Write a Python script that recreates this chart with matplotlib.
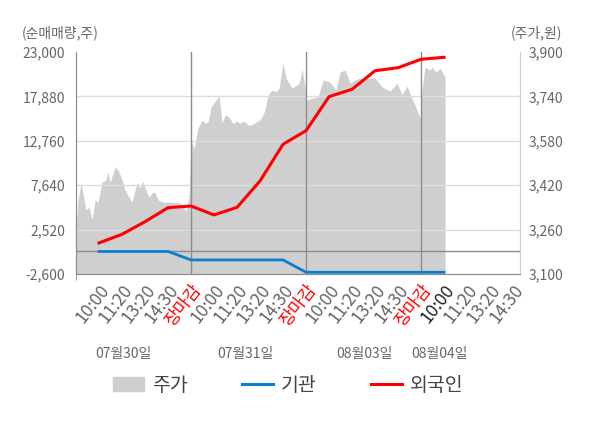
import matplotlib
matplotlib.use("Agg")
import matplotlib.pyplot as plt
from matplotlib.lines import Line2D
from matplotlib.patches import Patch
from matplotlib.ticker import FuncFormatter

plt.rcParams['font.family'] = ['Noto Sans CJK KR', 'DejaVu Sans']

# --- data -------------------------------------------------------------
# x unit: 5 units per trading day (9:00, 10:00, 11:20, 13:20, 14:30, close)
price_t = [
    0.0, 0.09, 0.22, 0.43, 0.57, 0.70, 0.83, 0.96, 1.13, 1.30, 1.39, 1.48, 1.70, 1.83, 2.0,
    2.13, 2.43, 2.65, 2.78, 2.91, 3.04, 3.17, 3.30, 3.43, 3.57, 3.78, 4.09, 4.52, 4.78, 4.91,
    5.0, 5.13, 5.30, 5.48, 5.61, 5.74, 5.87, 6.22, 6.35, 6.48, 6.65, 6.83, 6.96, 7.13, 7.30,
    7.48, 7.65, 7.83, 8.0, 8.17, 8.35, 8.52, 8.70, 8.83, 9.0, 9.13, 9.39, 9.70, 9.83, 9.96,
    10.0, 10.09, 10.26, 10.52, 10.74, 11.04, 11.30, 11.48, 11.70, 11.91, 12.22, 12.43, 13.0,
    13.30, 13.65, 13.96, 14.17, 14.39, 14.57, 14.70, 14.87, 14.96,
    15.04, 15.17, 15.39, 15.48, 15.65, 15.83, 16.0, 16.04,
]
price = [
    3266, 3367, 3428, 3331, 3341, 3295, 3367, 3359, 3431, 3439, 3468, 3431, 3486, 3475, 3439,
    3403, 3359, 3428, 3410, 3435, 3403, 3377, 3392, 3395, 3367, 3359, 3359, 3356, 3327, 3377,
    3583, 3550, 3626, 3655, 3644, 3648, 3702, 3741, 3644, 3673, 3666, 3641, 3651, 3644, 3651,
    3637, 3637, 3648, 3655, 3680, 3745, 3763, 3756, 3770, 3860, 3806, 3770, 3788, 3839, 3770,
    3727, 3727, 3734, 3738, 3799, 3792, 3763, 3828, 3835, 3788, 3803, 3806, 3806,
    3774, 3759, 3788, 3745, 3777, 3738, 3716, 3680, 3662,
    3763, 3846, 3835, 3846, 3828, 3842, 3814, 3817,
]

flow_t = list(range(1, 17))
foreign = [980, 1980, 3430, 5050, 5240, 4210, 5090, 8130, 12360, 13930,
           17850, 18700, 20840, 21190, 22160, 22390]
institution = [0, 0, 0, 0, -980, -980, -980, -980, -980, -2400,
               -2400, -2400, -2400, -2400, -2400, -2400]

time_labels = ['10:00', '11:20', '13:20', '14:30', '장마감']
day_labels = ['07월30일', '07월31일', '08월03일', '08월04일']
day_label_pos = [2.05, 7.35, 12.55, 15.8]

left_ticks = [-2600, 2520, 7640, 12760, 17880, 23000]
right_ticks = [3100, 3260, 3420, 3580, 3740, 3900]

# --- plot -------------------------------------------------------------
gray_txt = '#666666'
fig = plt.figure(figsize=(6, 4.28), dpi=100)
ax = fig.add_axes([76 / 600, 1 - 274 / 428, 444 / 600, 222 / 428])
ax2 = ax.twinx()
ax.set_zorder(ax2.get_zorder() + 1)
ax.patch.set_visible(False)
ax2.patch.set_facecolor('#f4f4f4')

ax2.fill_between(price_t, 3100, price, color='#cfcfcf', lw=0)
ax2.set_ylim(3100, 3900)
ax2.set_yticks(right_ticks)

ax.set_ylim(-2600, 23000)
ax.set_yticks(left_ticks)
for v in left_ticks[1:-1]:
    ax.axhline(v, color='#dcdcdc', lw=1, zorder=1)
ax.axhline(0, color='#8c8c8c', lw=1, zorder=1)
for d in (5, 10, 15):
    ax.axvline(d, color='#8c8c8c', lw=1, zorder=1)

ax.plot(flow_t, institution, color='#0a7fd0', lw=2.0, zorder=3)
ax.plot(flow_t, foreign, color='#ff0000', lw=2.2, zorder=4)

fmt = FuncFormatter(lambda v, p: f'{int(v):,}')
ax.yaxis.set_major_formatter(fmt)
ax2.yaxis.set_major_formatter(fmt)

ax.set_xlim(0, 19.3)
xt = [d * 5 + i + 1 for d in range(4) for i in range(5) if d * 5 + i + 1 < 19.3]
ax.set_xticks(xt)
ax.set_xticklabels([time_labels[(t - 1) % 5] for t in xt], rotation=52,
                   ha='right', va='top', rotation_mode='anchor', fontsize=12.5)
for t, lab in zip(xt, ax.get_xticklabels()):
    if t % 5 == 0:
        lab.set_color('red')
    elif t == 16:
        lab.set_color('#222222')
    else:
        lab.set_color(gray_txt)
ax.set_xticks([0, 5, 10, 15], minor=True)
ax.tick_params(axis='x', which='major', length=0, pad=5)
ax.tick_params(axis='x', which='minor', length=4, color='#8c8c8c')
ax.tick_params(axis='y', length=0, labelsize=10, labelcolor=gray_txt, pad=8)
ax2.tick_params(axis='y', length=0, labelsize=10, labelcolor=gray_txt, pad=6)

for a in (ax, ax2):
    a.spines['top'].set_visible(False)
    a.spines['left'].set_color('#8c8c8c')
    a.spines['bottom'].set_color('#8c8c8c')
    a.spines['right'].set_color('#d0d0d0')

for pos, lab in zip(day_label_pos, day_labels):
    ax.text(pos, -0.36, lab, transform=ax.get_xaxis_transform(), ha='center',
            va='center', fontsize=10, color=gray_txt)

fig.text(22 / 600, 1 - 33 / 428, '(순매매량,주)', fontsize=10, color=gray_txt,
         ha='left', va='center')
fig.text(562 / 600, 1 - 33 / 428, '(주가,원)', fontsize=10, color=gray_txt,
         ha='right', va='center')

handles = [Patch(color='#cfcfcf'),
           Line2D([], [], color='#0a7fd0', lw=2.2),
           Line2D([], [], color='#ff0000', lw=2.2)]
fig.legend(handles, ['주가', '기관', '외국인'], loc='center', bbox_to_anchor=(0.48, 0.1),
           ncol=3, frameon=False, fontsize=14, handlelength=1.6, handleheight=0.8,
           columnspacing=2.8, handletextpad=0.4, labelcolor='#444444')

fig.savefig('out.png', dpi=100)
